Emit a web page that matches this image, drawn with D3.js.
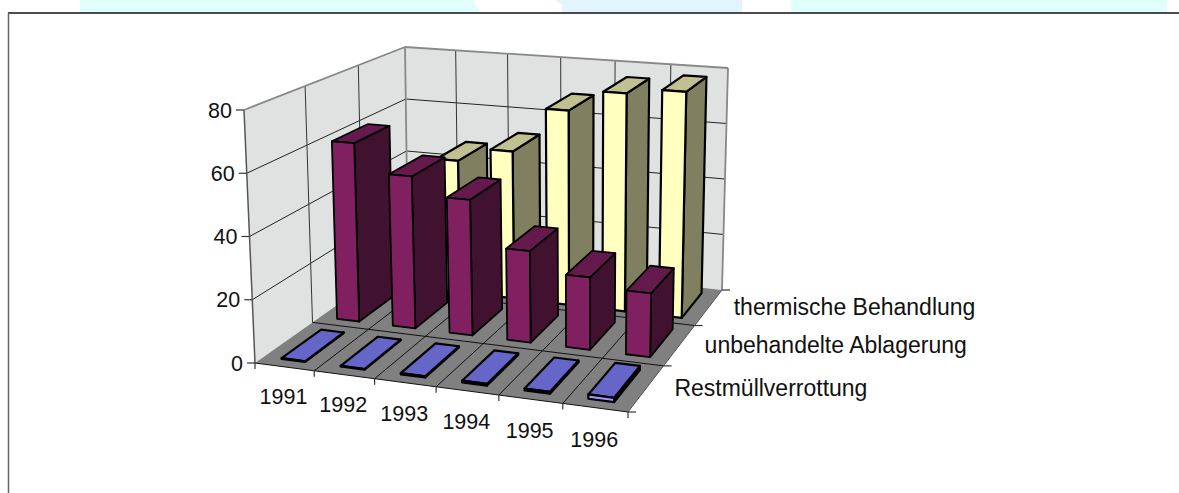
<!DOCTYPE html>
<html>
<head>
<meta charset="utf-8">
<script src="https://cdn.jsdelivr.net/npm/d3@7"></script>
<style>
html,body{margin:0;padding:0;background:#fff;}
svg{display:block;}
text{font-family:"Liberation Sans",Arial,sans-serif;font-size:21.5px;fill:#111;}
text.series{font-size:23px;}
</style>
</head>
<body>
<svg id="chart" width="1179" height="493"></svg>
<script>
var w=1179, h=493;

var years=["1991","1992","1993","1994","1995","1996"];
var seriesNames=["Restmüllverrottung","unbehandelte Ablagerung","thermische Behandlung"];
var restmuell=[0.2,0.2,0.4,0.5,0.6,1.3];
var unbehandelt=[60.5,51,45,30,23.5,20.5];
var thermisch=[0,47,52,68,75.5,77.5];
var seriesValues=[restmuell,unbehandelt,thermisch];
var yTicks=[0,20,40,60,80];

// corners of the box in screen space
var floorQuad=[[255,363],[628,412],[722,290],[408,255]];
var topQuad=[[244,110],[631,142],[728,68],[405,47]];

var barW=0.4, barD=0.7;

var colors=[
 {front:"#9999ff",side:"#111111",top:"#6666c8"},
 {front:"#802060",side:"#40122f",top:"#651a4d"},
 {front:"#ffffc0",side:"#808060",top:"#c0c090"}
];

// unit square -> quad
function makeHomography(q){
  var x0=q[0][0],y0=q[0][1],x1=q[1][0],y1=q[1][1],x2=q[2][0],y2=q[2][1],x3=q[3][0],y3=q[3][1];
  var dx1=x1-x2,dx2=x3-x2,sx=x0-x1+x2-x3;
  var dy1=y1-y2,dy2=y3-y2,sy=y0-y1+y2-y3;
  var den=dx1*dy2-dx2*dy1;
  var g=(sx*dy2-dx2*sy)/den, k=(dx1*sy-sx*dy1)/den;
  var a=x1-x0+g*x1,b=x3-x0+k*x3,c=x0,d=y1-y0+g*y1,e=y3-y0+k*y3,f=y0;
  return function(u,v){
    var z=g*u+k*v+1;
    return [(a*u+b*v+c)/z,(d*u+e*v+f)/z];
  };
}
var floorH=makeHomography(floorQuad), topH=makeHomography(topQuad);

var xScale=d3.scaleLinear().domain([0,years.length]).range([0,1]);
var zScale=d3.scaleLinear().domain([0,seriesNames.length]).range([0,1]);
var yScale=d3.scaleLinear().domain([0,80]).range([0,1]);

function project(col,row,val){
  var u=xScale(col),v=zScale(row),t=yScale(val);
  var a=floorH(u,v),b=topH(u,v);
  return [a[0]+(b[0]-a[0])*t,a[1]+(b[1]-a[1])*t];
}

var svg=d3.select("#chart");
var line=d3.line().x(function(p){return p[0];}).y(function(p){return p[1];});
function poly(pts,fill,stroke,sw){
  svg.append("path").attr("d",line(pts)+"Z").attr("fill",fill)
   .attr("stroke",stroke||"none").attr("stroke-width",sw||0).attr("stroke-linejoin","round");
}
function seg(a,b,stroke,sw){
  svg.append("path").attr("d",line([a,b])).attr("fill","none").attr("stroke",stroke).attr("stroke-width",sw);
}

function drawBackdrop(){
  // strips of the page behind the chart frame
  poly([[80,0],[473,0],[481,13],[80,13]],"#e0fffb");
  poly([[555,0],[562,5],[562,13],[742,13],[742,0]],"#e2f5ff");
  poly([[791,0],[1167,0],[1167,13],[791,13]],"#e0fffb");
  seg([8,13],[1179,13],"#111",1.5);
  seg([8.5,13],[8.5,493],"#666",1.5);
}

function drawWalls(){
  var nx=years.length,nz=seriesNames.length;
  poly([project(0,0,0),project(0,nz,0),project(0,nz,80),project(0,0,80)],"#e0e2e2");
  poly([project(0,nz,0),project(nx,nz,0),project(nx,nz,80),project(0,nz,80)],"#e0e2e2");
  poly([project(0,0,0),project(nx,0,0),project(nx,nz,0),project(0,nz,0)],"#808080");

  yTicks.slice(1,-1).forEach(function(t){
    seg(project(0,0,t),project(0,nz,t),"#222",1);
    seg(project(0,nz,t),project(nx,nz,t),"#222",1);
  });
  d3.range(1,nz).forEach(function(r){
    seg(project(0,r,0),project(0,r,80),"#333",1);
    seg(project(0,r,0),project(nx,r,0),"#111",1);
  });
  d3.range(1,nx).forEach(function(c){
    seg(project(c,nz,0),project(c,nz,80),"#333",1);
    seg(project(c,0,0),project(c,nz,0),"#111",1);
  });
  // box edges
  seg(project(0,0,0),project(0,0,80),"#555",1.5);
  seg(project(0,0,80),project(0,nz,80),"#888",1.8);
  seg(project(0,nz,0),project(0,nz,80),"#888",1.8);
  seg(project(0,nz,80),project(nx,nz,80),"#888",1.8);
  seg(project(nx,nz,0),project(nx,nz,80),"#888",1.8);
  seg(project(0,0,0),project(nx,0,0),"#111",1);
  seg(project(nx,0,0),project(nx,nz,0),"#555",1);
}

function drawAxes(){
  yTicks.forEach(function(t){
    var p=project(0,0,t);
    seg([p[0]-8,p[1]],p,"#333",1.2);
    svg.append("text").attr("x",p[0]-12).attr("y",p[1]+7.5).attr("text-anchor","end").text(t);
  });
  d3.range(0,years.length+1).forEach(function(c){
    var p=project(c,0,0);
    seg(p,[p[0],p[1]+6],"#333",1.2);
  });
  years.forEach(function(y,c){
    var p=project(c+0.5,0,0);
    svg.append("text").attr("x",p[0]-1).attr("y",p[1]+37+c*0.5).attr("text-anchor","middle").text(y);
  });
  d3.range(0,seriesNames.length+1).forEach(function(r){
    var p=project(years.length,r,0);
    seg(p,[p[0]+8,p[1]],"#333",1.2);
  });
  var labelGap=[28,25,25];
  seriesNames.forEach(function(s,r){
    var p=project(years.length,r+0.5,0);
    svg.append("text").attr("class","series").attr("x",p[0]+labelGap[r]).attr("y",p[1]+8).text(s);
  });
}

function drawBar(col,row,val,c){
  var x0=col+(1-barW)/2,x1=x0+barW,z0=row+(1-barD)/2,z1=z0+barD;
  var sw=row===1?1.8:2.2;
  poly([project(x1,z0,0),project(x1,z1,0),project(x1,z1,val),project(x1,z0,val)],c.side,"#000",sw);
  poly([project(x0,z0,val),project(x1,z0,val),project(x1,z1,val),project(x0,z1,val)],c.top,"#000",sw);
  poly([project(x0,z0,0),project(x1,z0,0),project(x1,z0,val),project(x0,z0,val)],c.front,"#000",sw);
}

drawBackdrop();
drawWalls();
for(var r=seriesNames.length-1;r>=0;r--){
  seriesValues[r].forEach(function(v,c){
    if(v>0) drawBar(c,r,v,colors[r]);
  });
}
drawAxes();
</script>
</body>
</html>
